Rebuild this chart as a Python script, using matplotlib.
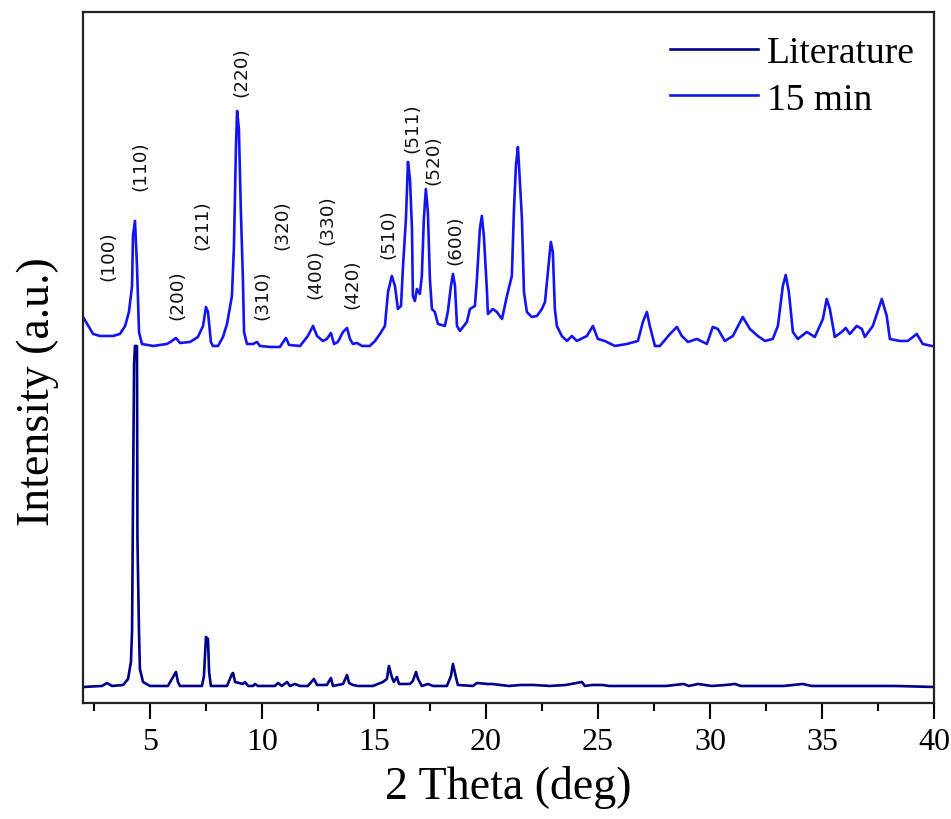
import matplotlib
matplotlib.use("Agg")
import matplotlib.pyplot as plt

# ---- data (2theta in deg, intensity in a.u.) ----
min15_x = [2.00, 2.45, 2.76, 3.34, 3.65, 3.88, 4.05, 4.19, 4.23, 4.32, 4.41, 4.50, 4.63, 5.13, 5.75, 5.97,
           6.15, 6.33, 6.78, 7.13, 7.36, 7.49, 7.58, 7.71, 7.80, 8.03, 8.25, 8.43, 8.65, 8.74, 8.83, 8.88,
           8.96, 9.05, 9.14, 9.19, 9.32, 9.59, 9.77, 9.90, 10.35, 10.79, 11.06, 11.20, 11.69, 12.04, 12.27,
           12.45, 12.71, 12.89, 13.07, 13.21, 13.38, 13.61, 13.79, 13.92, 14.05, 14.23, 14.46, 14.81, 15.04,
           15.26, 15.48, 15.62, 15.79, 15.93, 16.06, 16.20, 16.29, 16.42, 16.51, 16.60, 16.69, 16.73, 16.82,
           16.91, 17.04, 17.13, 17.22, 17.31, 17.40, 17.49, 17.58, 17.71, 17.85, 18.16, 18.29, 18.43, 18.52,
           18.61, 18.70, 18.83, 19.14, 19.28, 19.50, 19.59, 19.72, 19.81, 19.90, 20.04, 20.08, 20.30, 20.48,
           20.71, 20.93, 21.15, 21.24, 21.33, 21.42, 21.46, 21.60, 21.69, 21.82, 22.04, 22.27, 22.49, 22.63,
           22.76, 22.89, 22.98, 23.07, 23.16, 23.38, 23.61, 23.83, 24.05, 24.50, 24.77, 24.99, 25.30, 25.75,
           26.29, 26.78, 27.00, 27.18, 27.31, 27.54, 27.76, 28.21, 28.52, 28.74, 29.01, 29.41, 29.86, 30.12,
           30.35, 30.66, 31.02, 31.46, 31.78, 32.13, 32.45, 32.80, 33.03, 33.25, 33.38, 33.52, 33.70, 33.92,
           34.32, 34.68, 35.04, 35.21, 35.35, 35.57, 35.88, 36.06, 36.24, 36.55, 36.78, 36.91, 37.27, 37.67,
           37.89, 38.03, 38.47, 38.83, 39.23, 39.50, 39.90]
min15_y = [386, 369, 367, 367, 369, 377, 391, 417, 467, 482, 437, 371, 359, 357, 359, 362,
           365, 360, 361, 366, 377, 396, 391, 361, 357, 357, 366, 379, 407, 457, 557, 592,
           574, 491, 424, 371, 359, 359, 361, 357, 356, 356, 365, 358, 357, 367, 377,
           367, 362, 364, 370, 359, 361, 371, 375, 364, 359, 360, 357, 357, 362,
           369, 377, 411, 427, 417, 394, 397, 437, 484, 541, 524, 474, 407, 402,
           414, 409, 427, 484, 514, 491, 424, 394, 391, 379, 377, 391, 417, 429,
           417, 377, 372, 381, 394, 397, 424, 474, 487, 467, 411, 389, 394, 391,
           384, 407, 427, 491, 537, 556, 541, 484, 411, 391, 386, 387, 394, 401,
           431, 461, 451, 394, 377, 367, 362, 367, 362, 367, 377, 364, 362, 357,
           359, 362, 381, 391, 377, 357, 357, 369, 376, 367, 361, 364, 359, 376,
           374, 362, 367, 386, 374, 367, 362, 364, 377, 417, 428, 411, 371, 364,
           371, 366, 384, 404, 394, 366, 371, 375, 369, 377, 374, 366, 377, 404,
           387, 364, 362, 362, 369, 359, 357]

lit_x = [2.00, 2.85, 3.07, 3.29, 3.79, 4.01, 4.14, 4.19, 4.23, 4.28, 4.32, 4.41, 4.43, 4.50, 4.54, 4.68,
         4.99, 5.79, 6.02, 6.15, 6.24, 6.33, 7.31, 7.40, 7.49, 7.58, 7.63, 7.71, 8.43, 8.65, 8.70, 8.79,
         9.14, 9.23, 9.37, 9.59, 9.68, 9.81, 10.57, 10.71, 10.88, 11.11, 11.24, 11.46, 11.69, 12.04, 12.31,
         12.45, 12.89, 13.07, 13.16, 13.61, 13.79, 13.88, 14.05, 14.28, 14.95, 15.39, 15.57, 15.66, 15.79,
         15.88, 16.02, 16.11, 16.60, 16.73, 16.87, 16.96, 17.13, 17.40, 17.63, 18.25, 18.43, 18.52, 18.65,
         18.74, 19.41, 19.59, 20.04, 20.26, 21.02, 21.55, 22.13, 22.85, 23.56, 24.28, 24.41, 24.72, 25.21,
         25.48, 26.24, 26.91, 28.03, 28.83, 29.05, 29.46, 30.08, 30.71, 31.11, 31.38, 32.18, 33.29, 34.14,
         34.54, 35.84, 37.27, 38.29, 40.00]
lit_y = [16, 17, 20, 17, 18, 24, 41, 72, 197, 339, 357, 357, 164, 71, 34, 21,
         17, 17, 26, 31, 21, 17, 17, 27, 66, 64, 31, 17, 17, 29, 30, 21,
         19, 21, 17, 17, 19, 17, 17, 20, 17, 21, 17, 19, 17, 17, 24,
         18, 18, 25, 17, 19, 28, 20, 18, 17, 17, 21, 24, 37, 26,
         21, 26, 19, 19, 22, 31, 24, 17, 19, 17, 17, 27, 39, 26,
         18, 17, 20, 19, 19, 17, 18, 18, 17, 18, 21, 17, 18, 18,
         17, 17, 17, 17, 19, 17, 19, 17, 18, 19, 17, 17, 17, 19,
         17, 17, 17, 17, 16]

hkl_labels = ["(100)", "(110)", "(200)", "(211)", "(220)", "(310)", "(320)",
              "(400)", "(330)", "(420)", "(510)", "(511)", "(520)", "(600)"]
hkl_x = [3.12, 4.54, 6.20, 7.31, 9.05, 9.99, 10.88, 12.36, 12.89, 14.01, 15.62, 16.69, 17.63, 18.61]
hkl_y = [448, 538, 409, 479, 632, 409, 479, 430, 484, 420, 470, 576, 544, 464]

# ---- figure ----
fig = plt.figure(figsize=(9.51, 8.20), dpi=100)
ax = fig.add_axes([0.0873, 0.1415, 0.8948, 0.8427])

ax.plot(lit_x, lit_y, color="#000088", lw=1.9, label="Literature")
ax.plot(min15_x, min15_y, color="#1414f0", lw=1.9, label="15 min")

for t, x, y in zip(hkl_labels, hkl_x, hkl_y):
    ax.text(x, y, t, rotation=90, ha="center", va="center",
            fontsize=13.2, family="DejaVu Sans", color="#111111")

ax.set_xlim(2, 40)
ax.set_ylim(0, 691)
ax.set_xticks([5, 10, 15, 20, 25, 30, 35, 40])
ax.set_xticks([2.5, 7.5, 12.5, 17.5, 22.5, 27.5, 32.5, 37.5], minor=True)
ax.set_yticks([])

for s in ax.spines.values():
    s.set_linewidth(1.6)
    s.set_color("#222222")

ax.tick_params(axis="x", which="major", direction="out", length=11.5, width=1.5,
               labelsize=23, pad=6)
ax.tick_params(axis="x", which="minor", direction="out", length=6, width=1.5)
for lbl in ax.get_xticklabels():
    lbl.set_family("Liberation Serif")

ax.set_xlabel("2 Theta (deg)", fontsize=33, family="Liberation Serif", labelpad=6)
ax.set_ylabel("Intensity (a.u.)", fontsize=33, family="Liberation Serif")
ax.yaxis.set_label_coords(-0.028, 0.452)

leg = ax.legend(loc="upper right", frameon=False,
                prop={"family": "Liberation Serif", "size": 27},
                handlelength=2.35, handletextpad=0.25, labelspacing=0.32,
                borderaxespad=0.1, bbox_to_anchor=(1.0, 0.993))
for h in leg.get_lines():
    h.set_linewidth(1.9)

fig.savefig("out.png", dpi=100)
